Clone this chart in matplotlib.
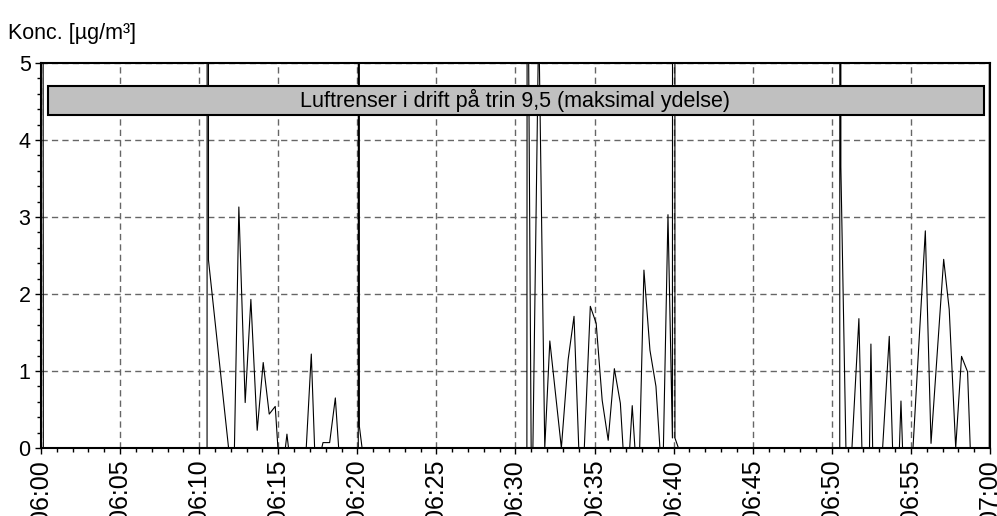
import matplotlib
matplotlib.use('Agg')
import matplotlib.pyplot as plt
import matplotlib.dates as mdates
import pandas as pd
from matplotlib.patches import Rectangle
from matplotlib.ticker import MultipleLocator

plt.rcParams['font.family'] = ['Liberation Sans', 'DejaVu Sans']
plt.rcParams['font.size'] = 15.5

# Measurement times (minutes after 06:00) and concentrations in ug/m3
minutes = [0.00, 0.15, 10.50, 10.55, 10.59,
           11.86, 12.23, 12.51, 12.91, 13.27,
           13.67, 14.05, 14.43, 14.81, 14.98,
           15.45, 15.55, 15.65, 16.77, 17.09,
           17.30, 17.75, 17.83, 18.25, 18.61,
           18.82, 20.06, 20.10, 20.13, 20.30,
           30.72, 30.74, 30.99, 31.10, 31.47,
           31.85, 32.17, 32.90, 33.33, 33.70,
           34.00, 34.35, 34.73, 35.10, 35.48,
           35.86, 36.25, 36.63, 36.80, 37.22,
           37.38, 37.55, 37.85, 38.12, 38.50,
           38.88, 39.13, 39.35, 39.64, 39.92,
           40.04, 40.08, 40.30, 50.50, 50.55,
           50.57, 50.89, 51.27, 51.71, 51.90,
           52.38, 52.47, 52.58, 53.21, 53.63,
           53.84, 54.27, 54.37, 54.47, 55.13,
           55.91, 56.27, 57.07, 57.42, 57.83,
           58.20, 58.58, 58.75, 59.95, 60.00]
conc = [60, 0, 0, 80, 2.44,
        0, 0, 3.13, 0.59, 1.93,
        0.23, 1.11, 0.44, 0.54, 0,
        0, 0.18, 0, 0, 1.22,
        0, 0, 0.07, 0.07, 0.65,
        0, 0, 80, 0.28, 0,
        0, 8.0, 0, 0, 5.6,
        0, 1.39, 0, 1.15, 1.71,
        0, 0, 1.84, 1.62, 0.62,
        0.10, 1.03, 0.58, 0, 0,
        0.55, 0, 0, 2.31, 1.27,
        0.80, 0, 0, 3.03, 0.13,
        90, 0.13, 0, 0, 90,
        3.65, 0, 0, 1.68, 0,
        0, 1.35, 0, 0, 1.45,
        0, 0, 0.61, 0, 0,
        2.82, 0.06, 2.45, 1.80, 0,
        1.19, 0.99, 0, 0, 80]

start = pd.Timestamp('2000-01-01 06:00')
end = pd.Timestamp('2000-01-01 07:00')
times = start + pd.to_timedelta(minutes, unit='min')

box_text = 'Luftrenser i drift på trin 9,5 (maksimal ydelse)'

fig = plt.figure(figsize=(9.97, 5.16), dpi=100)
ax = fig.add_axes([0.0411, 0.1318, 0.9519, 0.7461])

ax.plot(times, conc, color='black', linewidth=0.8, zorder=3)

ax.set_xlim(start, end)
ax.set_ylim(0, 5)
ax.xaxis.set_major_locator(mdates.MinuteLocator(byminute=range(0, 60, 5)))
ax.xaxis.set_minor_locator(mdates.MinuteLocator())
ax.xaxis.set_major_formatter(mdates.DateFormatter('%H:%M'))
ax.yaxis.set_major_locator(MultipleLocator(1))
ax.yaxis.set_minor_locator(MultipleLocator(0.2))

ax.grid(True, which='major', color='#666666', linestyle=(0, (4.5, 3.0)), linewidth=1.0)
ax.tick_params(which='major', direction='out', length=4.5, width=1.0, pad=3)
ax.tick_params(which='minor', direction='out', length=3, width=1.0)
ax.tick_params(axis='x', which='major', pad=4, labelsize=18)
plt.setp(ax.get_xticklabels(), rotation=90, va='top', ha='center')
for s in ax.spines.values():
    s.set_linewidth(1.5)

# grey box with the operating note
ax.add_patch(Rectangle((0.0074, 0.866), 0.9863, 0.074, transform=ax.transAxes,
                       facecolor='#c0c0c0', edgecolor='black', linewidth=1.5, zorder=5))
ax.text(0.5, 0.903, box_text, transform=ax.transAxes, ha='center', va='center', zorder=6)

fig.text(8 / 997, 1 - 33 / 516, 'Konc. [µg/m³]', ha='left', va='center')

fig.savefig('out.png', dpi=100)
plt.close(fig)
